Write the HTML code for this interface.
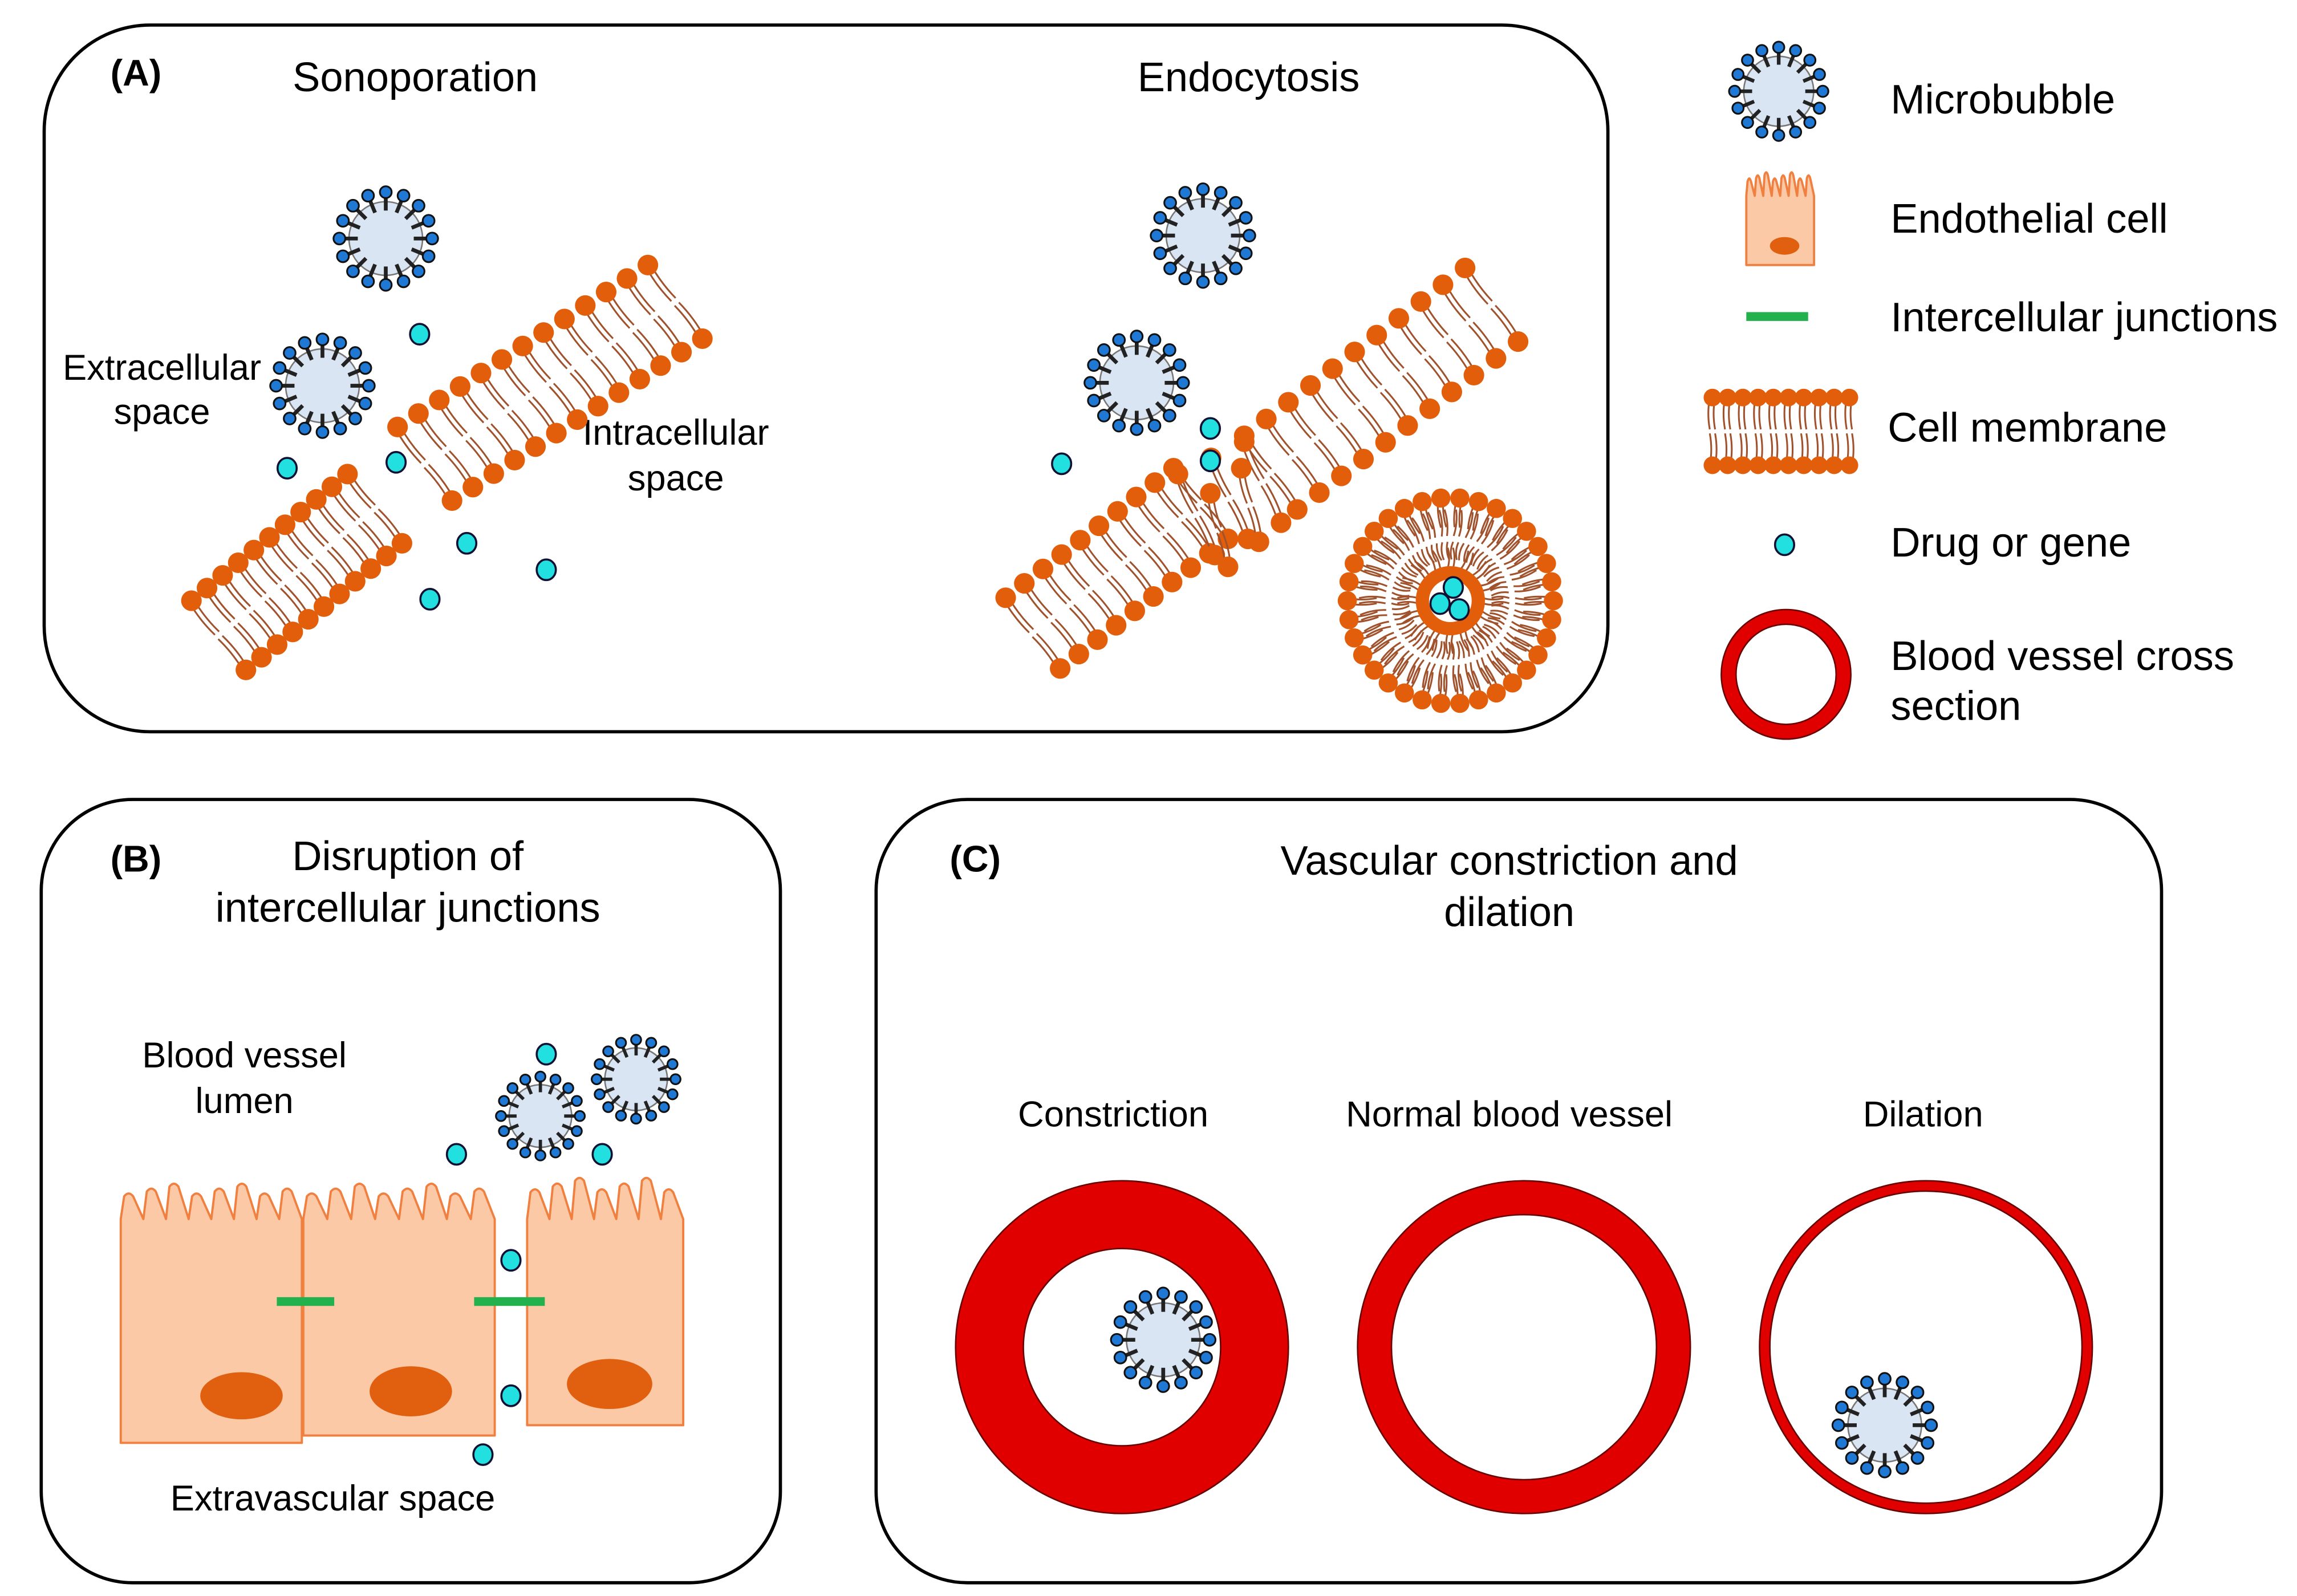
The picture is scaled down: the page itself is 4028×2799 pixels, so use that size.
<!DOCTYPE html>
<html><head><meta charset="utf-8">
<style>
html,body{margin:0;padding:0;background:#fff;}
svg{display:block;}
text{font-family:"Liberation Sans",sans-serif;fill:#000;}
</style></head>
<body>
<svg id="s" xmlns="http://www.w3.org/2000/svg" width="4028" height="2799" viewBox="0 0 1560 1084">
<rect x="0" y="0" width="1560" height="1084" fill="#fff"/>
<g fill="none" stroke="#000" stroke-width="2.2">
<rect x="30" y="17" width="1062" height="480" rx="72"/>
<rect x="28" y="543" width="502" height="532" rx="62"/>
<rect x="595" y="543" width="873" height="532" rx="62"/>
</g>
<g font-size="28">
<text x="75" y="58" font-weight="bold" font-size="25">(A)</text>
<text x="282" y="62" text-anchor="middle">Sonoporation</text>
<text x="848" y="62" text-anchor="middle">Endocytosis</text>
<text x="110" y="258" text-anchor="middle" font-size="24.5">Extracellular</text>
<text x="110" y="288" text-anchor="middle" font-size="24.5">space</text>
<text x="459" y="302" text-anchor="middle" font-size="24.5">Intracellular</text>
<text x="459" y="333" text-anchor="middle" font-size="24.5">space</text>
<text x="1284" y="77">Microbubble</text>
<text x="1284" y="158">Endothelial cell</text>
<text x="1284" y="225">Intercellular junctions</text>
<text x="1282" y="300">Cell membrane</text>
<text x="1284" y="378">Drug or gene</text>
<text x="1284" y="455">Blood vessel cross</text>
<text x="1284" y="489">section</text>
<text x="75" y="592" font-weight="bold" font-size="25">(B)</text>
<text x="277" y="591" text-anchor="middle">Disruption of</text>
<text x="277" y="626" text-anchor="middle">intercellular junctions</text>
<text x="166" y="725" text-anchor="middle" font-size="24.5">Blood  vessel</text>
<text x="166" y="756" text-anchor="middle" font-size="24.5">lumen</text>
<text x="226" y="1026" text-anchor="middle" font-size="24.5">Extravascular space</text>
<text x="645" y="592" font-weight="bold" font-size="25">(C)</text>
<text x="1025" y="594" text-anchor="middle">Vascular constriction and</text>
<text x="1025" y="629" text-anchor="middle">dilation</text>
<text x="756" y="765" text-anchor="middle" font-size="24.5">Constriction</text>
<text x="1025" y="765" text-anchor="middle" font-size="24.5">Normal  blood  vessel</text>
<text x="1306" y="765" text-anchor="middle" font-size="24.5">Dilation</text>
</g>
<g fill="none">
<circle cx="762" cy="915" r="90" stroke="#E00000" stroke-width="46"/>
<circle cx="762" cy="915" r="113" stroke="#600" stroke-width="1"/>
<circle cx="762" cy="915" r="67" stroke="#600" stroke-width="1"/>
<circle cx="1035" cy="915" r="101.5" stroke="#E00000" stroke-width="23"/>
<circle cx="1035" cy="915" r="113" stroke="#600" stroke-width="1"/>
<circle cx="1035" cy="915" r="90" stroke="#600" stroke-width="1"/>
<circle cx="1308" cy="915" r="109.5" stroke="#E00000" stroke-width="7"/>
<circle cx="1308" cy="915" r="113" stroke="#600" stroke-width="1"/>
<circle cx="1308" cy="915" r="106" stroke="#600" stroke-width="1"/>
<circle cx="1213" cy="458" r="39" stroke="#E00000" stroke-width="10"/>
<circle cx="1213" cy="458" r="44" stroke="#600" stroke-width="1"/>
<circle cx="1213" cy="458" r="34" stroke="#600" stroke-width="1"/>
</g>
<line x1="1186" y1="215" x2="1228" y2="215" stroke="#22B14C" stroke-width="6"/>
<g id="dyn"></g>
</svg>
<script>
var NS="http://www.w3.org/2000/svg",G=document.getElementById("dyn");
function el(t,a){var e=document.createElementNS(NS,t);for(var k in a)e.setAttribute(k,a[k]);G.appendChild(e);return e;}
var HC="#E35E0A",TC="#A0522D";
function tails(x,y,dx,dy,len){var L=Math.hypot(dx,dy),ux=dx/L,uy=dy/L,px=-uy,py=ux;
 for(var s=-1;s<=1;s+=2){var ox=x+px*1.8*s,oy=y+py*1.8*s;
 el("path",{d:"M"+ox+" "+oy+" q"+(ux*len/2+px*2)+" "+(uy*len/2+py*2)+" "+(ux*len)+" "+(uy*len),fill:"none",stroke:TC,"stroke-width":1.2});}}
function membrane(x1,y1,x2,y2,n,dx,dy,r){r=r||7;
 for(var i=0;i<n;i++){var t=i/(n-1),x=x1+(x2-x1)*t,y=y1+(y2-y1)*t;
  tails(x,y,dx,dy,Math.hypot(dx,dy)*0.47);tails(x+dx,y+dy,-dx,-dy,Math.hypot(dx,dy)*0.47);}
 for(var i=0;i<n;i++){var t=i/(n-1),x=x1+(x2-x1)*t,y=y1+(y2-y1)*t;
  el("circle",{cx:x,cy:y,r:r,fill:HC});el("circle",{cx:x+dx,cy:y+dy,r:r,fill:HC});}}
function bubble(cx,cy,s){s=s||1;var R=25*s;
 el("circle",{cx:cx,cy:cy,r:R,fill:"#DAE5F3",stroke:"#777","stroke-width":1});
 for(var i=0;i<16;i++){var a=i/16*2*Math.PI,c=Math.cos(a),sn=Math.sin(a);
  el("line",{x1:cx+c*(R-6*s),y1:cy+sn*(R-6*s),x2:cx+c*(R+4*s),y2:cy+sn*(R+4*s),stroke:"#222","stroke-width":2.6*s});
  el("circle",{cx:cx+c*(R+6.5*s),cy:cy+sn*(R+6.5*s),r:4*s,fill:"#1F78D4",stroke:"#111","stroke-width":1.2});}}
function drug(x,y){el("ellipse",{cx:x,cy:y,rx:6.5,ry:7,fill:"#22E0E0",stroke:"#113","stroke-width":1.4});}
membrane(130,408,236,322,11,37,47);
membrane(270,290,440,180,13,37,50);
bubble(262,162);bubble(219,262);
[[285,227],[195,318],[269,314],[317,369],[371,387],[292,407]].forEach(function(p){drug(p[0],p[1]);});
membrane(683,406,797,318,10,37,48);
membrane(845,296,995,182,11,36,50);
membrane(800,322,845,300,3,25,55);
membrane(822,335,843,318,2,12,50);
bubble(817,160);bubble(772,260);
[[721,315],[822,291],[822,313]].forEach(function(p){drug(p[0],p[1]);});
(function(cx,cy){var n=34;for(var i=0;i<n;i++){var a=i/n*2*Math.PI,c=Math.cos(a),s=Math.sin(a);
 tails(cx+c*70,cy+s*70,-c,-s,20);tails(cx+c*44,cy+s*44,c,s,18);tails(cx+c*40,cy+s*40,-c,-s,12);}
 var m=16;for(var i=0;i<m;i++){var a=i/m*2*Math.PI;tails(cx+Math.cos(a)*22,cy+Math.sin(a)*22,Math.cos(a),Math.sin(a),14);}
 el("circle",{cx:cx,cy:cy,r:19,fill:"none",stroke:HC,"stroke-width":9});
 for(var i=0;i<n;i++){var a=i/n*2*Math.PI;el("circle",{cx:cx+Math.cos(a)*70,cy:cy+Math.sin(a)*70,r:6.5,fill:HC});}
 drug(cx+2,cy-9);drug(cx-7,cy+2);drug(cx+6,cy+6);})(985,408);
bubble(1208,62,0.95);
membrane(1163,270,1256,270,10,0,46,6);
drug(1212,370);
function cell(x,y,w,h,nvilli,vh,nuc){var d="M"+x+" "+(y+h)+" L"+x+" "+y;var step=w/nvilli;
 for(var i=0;i<nvilli;i++){var a=x+i*step;d+=" L"+(a+step*0.15)+" "+(y-vh*(0.7+0.3*((i*7)%3)/2))+" q"+(step*0.2)+" -4 "+(step*0.4)+" 0 L"+(a+step)+" "+y;}
 d+=" L"+(x+w)+" "+(y+h)+" Z";
 el("path",{d:d,fill:"#FCC9A7",stroke:"#F08040","stroke-width":1.5,"stroke-linejoin":"round"});
 if(nuc)el("ellipse",{cx:nuc[0],cy:nuc[1],rx:nuc[2],ry:nuc[3],fill:"#E06010"});}
cell(1186,133,46,47,8,14,[1212,167,10,6]);
cell(82,828,123,152,8,22,[164,948,28,16]);
cell(206,828,130,147,8,22,[279,945,28,17]);
cell(358,828,106,140,7,26,[414,940,29,17]);
el("line",{x1:188,y1:884,x2:227,y2:884,stroke:"#22B14C","stroke-width":6});
el("line",{x1:322,y1:884,x2:370,y2:884,stroke:"#22B14C","stroke-width":6});
bubble(367,758,0.85);bubble(432,733,0.85);
[[371,716],[310,784],[409,784],[347,856],[347,948],[328,988]].forEach(function(p){drug(p[0],p[1]);});
bubble(790,910);bubble(1280,968);
</script>
</body></html>
